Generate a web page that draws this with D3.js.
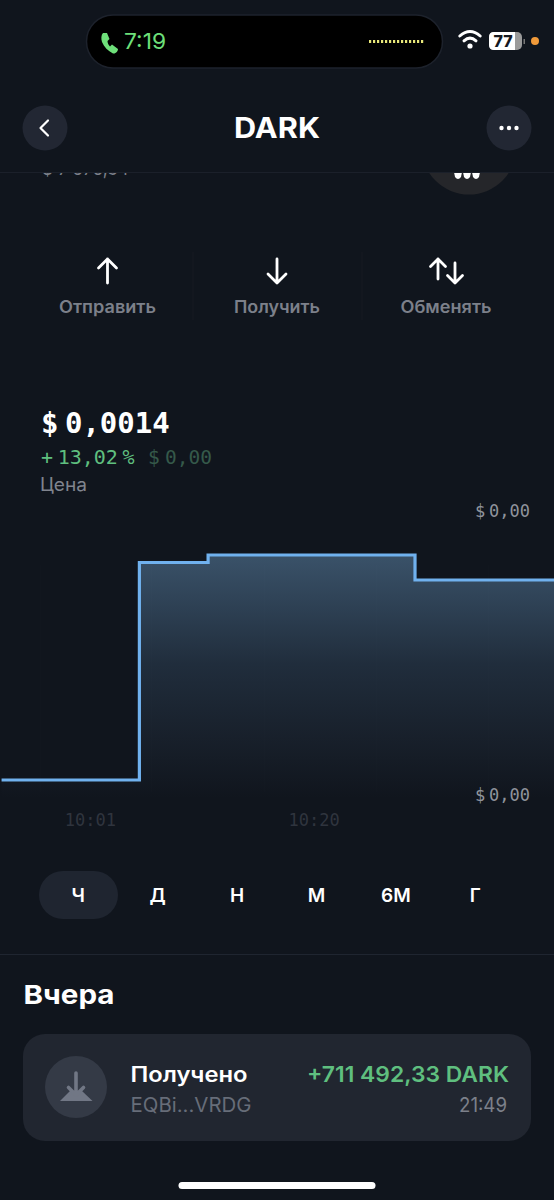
<!DOCTYPE html>
<html>
<head>
<meta charset="utf-8">
<script src="https://cdnjs.cloudflare.com/ajax/libs/d3/7.8.5/d3.min.js"></script>
<style>
	html, body { margin: 0; padding: 0; background: #10151d; }
	svg { display: block; }
	text { font-family: Inter, "Noto Sans", sans-serif; }
	.mono, .axis text { font-family: "DejaVu Sans Mono", monospace; }
</style>
</head>
<body>
<div id="screen"></div>
<script>
// chart data
const times = ["09:53:30", "10:05:12", "10:11:02", "10:28:36", "10:40:24"];
const prices = [0.00124, 0.001414, 0.00142, 0.0014, 0.0014];
const xTicks = ["10:01:00", "10:20:00"];
const gridTimes = ["09:56:50", "10:06:15", "10:15:50", "10:25:20", "10:34:50"];
const yTicks = [0.001455, 0.001228];

// rest of the screen
const actions = ["Отправить", "Получить", "Обменять"];
const ranges = ["Ч", "Д", "Н", "М", "6М", "Г"];

const parseTime = d3.timeParse("%H:%M:%S");
const formatTime = d3.timeFormat("%H:%M");
const data = times.map((t, i) => ({ date: parseTime(t), price: prices[i] }));

const W = 554, H = 1200;
const BG = "#10151d";
const svg = d3.select("#screen").append("svg")
	.attr("width", W)
	.attr("height", H)
	.attr("viewBox", `0 0 ${W} ${H}`);

const defs = svg.append("defs");
svg.append("rect").attr("width", W).attr("height", H).attr("fill", BG);

function label(x, y, str, o = {}) {
	const t = svg.append("text")
		.attr("x", x)
		.attr("y", y)
		.attr("fill", o.fill || "#fff")
		.attr("font-size", o.size || 16)
		.attr("font-weight", o.weight || 400)
		.attr("text-anchor", o.anchor || "start")
		.text(str);
	if (o.mono) t.attr("class", "mono");
	if (o.ws) t.style("word-spacing", o.ws + "px");
	if (o.width) t.attr("textLength", o.width).attr("lengthAdjust", "spacingAndGlyphs");
	return t;
}

function arrow(x, y1, y2, color, width, head) {
	const dir = y2 > y1 ? -1 : 1;
	svg.append("path")
		.attr("d", `M${x},${y1}L${x},${y2}M${x - head},${y2 + dir * head}L${x},${y2}L${x + head},${y2 + dir * head}`)
		.attr("fill", "none")
		.attr("stroke", color)
		.attr("stroke-width", width)
		.attr("stroke-linecap", "round")
		.attr("stroke-linejoin", "round");
}

/*
 *  Scrolled content behind the header
 */
label(42, 175, "$ 7 576,34", { size: 19, fill: "#7c808a", width: 87 });
svg.append("circle").attr("cx", 469).attr("cy", 147).attr("r", 47.5).attr("fill", "#25262a");
svg.selectAll(".tooth")
	.data([458, 467, 476])
	.join("path")
	.attr("class", "tooth")
	.attr("d", d => `M${d - 4},172L${d + 4},172L${d + 3},177Q${d},181 ${d - 3},177Z`)
	.attr("fill", "#fff");

/*
 *  Header and status bar
 */
svg.append("rect").attr("width", W).attr("height", 172).attr("fill", BG);
svg.append("line").attr("x1", 0).attr("x2", W).attr("y1", 172.5).attr("y2", 172.5).attr("stroke", "#1b202a");

svg.append("rect")
	.attr("x", 86.5).attr("y", 15).attr("width", 356).attr("height", 53).attr("rx", 26.5)
	.attr("fill", "#000").attr("stroke", "#1d222c").attr("stroke-width", 1.5);
svg.append("path")
	.attr("d", "M103,33C101,35 101,39 102,42C104,47 108,51 113,53.5C116,54 118,51 118,49L112,44.5L110,46.5C108.5,45 107.5,43 107.5,41L109.5,39L107,33Z")
	.attr("fill", "#6ee07a");
label(124, 49, "7:19", { size: 22, fill: "#6ee07a", width: 42 });
svg.selectAll(".eq")
	.data(d3.range(14))
	.join("rect")
	.attr("class", "eq")
	.attr("x", d => 369 + d * 4)
	.attr("y", 40)
	.attr("width", 2.2)
	.attr("height", 3)
	.attr("fill", "#e8e87a");

// wifi
[[8.5, 10], [5, 6]].forEach(([dx, dy]) => {
	svg.append("path")
		.attr("d", `M${470 - dx * 1.2},${48 - dy * 1.2}Q470,${48 - dy * 2.1} ${470 + dx * 1.2},${48 - dy * 1.2}`)
		.attr("fill", "none").attr("stroke", "#fff").attr("stroke-width", 3).attr("stroke-linecap", "round");
});
svg.append("circle").attr("cx", 470).attr("cy", 46).attr("r", 2.6).attr("fill", "#fff");

// battery
svg.append("rect").attr("x", 489).attr("y", 32).attr("width", 33).attr("height", 18).attr("rx", 5).attr("fill", "#9a9a9a");
svg.append("path").attr("d", "M494,32L515,32L515,50L494,50Q489,50 489,45L489,37Q489,32 494,32Z").attr("fill", "#fff");
svg.append("rect").attr("x", 523.5).attr("y", 39).attr("width", 1.5).attr("height", 5).attr("fill", "#777");
label(503, 47, "77", { size: 16, weight: 800, fill: "#14181f", anchor: "middle" });
svg.append("circle").attr("cx", 535).attr("cy", 41).attr("r", 4).attr("fill", "#f09a3a");

// nav
svg.selectAll(".navbtn")
	.data([45, 509])
	.join("circle")
	.attr("class", "navbtn")
	.attr("cx", d => d).attr("cy", 128).attr("r", 22.5)
	.attr("fill", "#222733");
svg.append("path")
	.attr("d", "M48,120.5L40.5,128L48,135.5")
	.attr("fill", "none").attr("stroke", "#fff").attr("stroke-width", 2.2).attr("stroke-linecap", "round").attr("stroke-linejoin", "round");
svg.selectAll(".navdot")
	.data([501.5, 509, 516.5])
	.join("circle")
	.attr("class", "navdot")
	.attr("cx", d => d).attr("cy", 128).attr("r", 2.2)
	.attr("fill", "#fff");
label(277, 138, "DARK", { size: 28, weight: 700, anchor: "middle", width: 86 });

/*
 *  Action buttons
 */
arrow(107.5, 283, 259, "#fff", 2.8, 9);
arrow(277, 259, 283, "#fff", 2.8, 9);
arrow(438, 279, 259, "#fff", 2.8, 7.5);
arrow(455, 263, 283, "#fff", 2.8, 7.5);
svg.selectAll(".sep")
	.data([193, 362])
	.join("line")
	.attr("class", "sep")
	.attr("x1", d => d).attr("x2", d => d).attr("y1", 252).attr("y2", 320)
	.attr("stroke", "#161b23");
const actionX = [107.5, 277, 446], actionW = [97, 86, 91];
actions.forEach((a, i) => label(actionX[i], 313, a, { size: 17, weight: 600, fill: "#7c808a", anchor: "middle", width: actionW[i] }));

/*
 *  Price heading
 */
label(41, 433, "$ 0,0014", { size: 29, weight: 700, mono: true, ws: -11 });
label(41, 464, "+ 13,02 %", { size: 20, fill: "#5fbf7f", mono: true, ws: -7.4 });
label(148, 464, "$ 0,00", { size: 19.5, fill: "#35594a", mono: true, ws: -6.5 });
label(40, 491, "Цена", { size: 18, fill: "#80848e", width: 47 });

/*
 *  Draw chart
 */
const xScale = d3.scaleTime()
	.domain([parseTime("09:53:22"), parseTime("10:40:24")])
	.range([0, W]);

const yScale = d3.scaleLinear()
	.domain([0.00124, 0.00142])
	.range([780, 555]);

const chartBottom = yScale(0.00123);

const gradient = defs.append("linearGradient")
	.attr("id", "area-fill")
	.attr("gradientUnits", "userSpaceOnUse")
	.attr("x1", 0).attr("x2", 0)
	.attr("y1", yScale(0.00142)).attr("y2", chartBottom + 6);
gradient.append("stop").attr("offset", "0%").attr("stop-color", "#3a5269");
gradient.append("stop").attr("offset", "45%").attr("stop-color", "#202d3c");
gradient.append("stop").attr("offset", "75%").attr("stop-color", "#18202b");
gradient.append("stop").attr("offset", "100%").attr("stop-color", BG);

svg.append("path")
	.datum(data)
	.attr("d", d3.area()
		.curve(d3.curveStepAfter)
		.x(d => xScale(d.date))
		.y0(chartBottom + 6)
		.y1(d => yScale(d.price)))
	.attr("fill", "url(#area-fill)");

svg.selectAll(".grid")
	.data(gridTimes.map(parseTime))
	.join("line")
	.attr("class", "grid")
	.attr("x1", d => xScale(d)).attr("x2", d => xScale(d))
	.attr("y1", 565).attr("y2", chartBottom)
	.attr("stroke", "#fff").attr("stroke-opacity", 0.01);

svg.append("path")
	.datum(data)
	.attr("d", d3.line()
		.curve(d3.curveStepAfter)
		.x(d => xScale(d.date))
		.y(d => yScale(d.price)))
	.attr("fill", "none")
	.attr("stroke", "#70b1ee")
	.attr("stroke-width", 3.2);

const xAxis = d3.axisBottom(xScale)
	.tickValues(xTicks.map(parseTime))
	.tickFormat(formatTime)
	.tickSize(0)
	.tickPadding(0);

const xAxisGroup = svg.append("g")
	.attr("class", "axis x-axis")
	.attr("transform", "translate(0, 814)")
	.call(xAxis);
xAxisGroup.select(".domain").remove();
xAxisGroup.selectAll("text").attr("font-size", 17).attr("fill", "#2f343e");

const yAxis = d3.axisLeft(yScale)
	.tickValues(yTicks)
	.tickFormat(d => "$ " + d.toFixed(2).replace(".", ","))
	.tickSize(0)
	.tickPadding(0);

const yAxisGroup = svg.append("g")
	.attr("class", "axis y-axis")
	.attr("transform", "translate(530, 0)")
	.call(yAxis);
yAxisGroup.select(".domain").remove();
yAxisGroup.selectAll("text").attr("font-size", 17).attr("fill", "#8f939c").style("word-spacing", "-6.4px");

/*
 *  Range selector
 */
const rangeX = d3.scaleBand().domain(ranges).range([38.5, 515]);
svg.append("rect")
	.attr("x", 39).attr("y", 871).attr("width", 79).attr("height", 48).attr("rx", 24)
	.attr("fill", "#1f2530");
svg.selectAll(".range")
	.data(ranges)
	.join("text")
	.attr("class", "range")
	.attr("x", d => rangeX(d) + rangeX.bandwidth() / 2)
	.attr("y", 902)
	.attr("text-anchor", "middle")
	.attr("font-size", 19)
	.attr("font-weight", 600)
	.attr("fill", "#fff")
	.text(d => d);
svg.append("line").attr("x1", 0).attr("x2", W).attr("y1", 954.5).attr("y2", 954.5).attr("stroke", "#1f2530");

/*
 *  Transaction list
 */
label(23.5, 1004, "Вчера", { size: 26, weight: 700, width: 91 });
svg.append("rect")
	.attr("x", 23).attr("y", 1034).attr("width", 508).attr("height", 107).attr("rx", 22)
	.attr("fill", "#212630");
svg.append("circle").attr("cx", 76).attr("cy", 1087).attr("r", 31).attr("fill", "#343a46");
svg.append("path").attr("d", "M70,1091L60,1101L92.5,1101L82,1091Z").attr("fill", "#717785");
arrow(76, 1073, 1095, "#717785", 3.6, 7.5);
label(130.5, 1082, "Получено", { size: 21, weight: 600, width: 117 });
label(130.5, 1112, "EQBi...VRDG", { size: 20, fill: "#676d79", width: 121 });
label(509, 1082, "+711 492,33 DARK", { size: 22, weight: 600, fill: "#5fbf7f", anchor: "end", width: 202 });
label(507, 1112, "21:49", { size: 20, fill: "#7c808a", anchor: "end", width: 48 });

svg.append("rect")
	.attr("x", 178.5).attr("y", 1182).attr("width", 197).attr("height", 7).attr("rx", 3.5)
	.attr("fill", "#fff");
</script>
</body>
</html>
